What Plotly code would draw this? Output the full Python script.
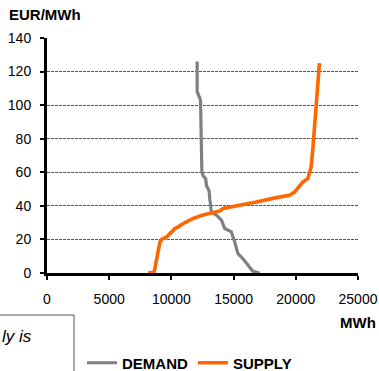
import plotly.graph_objects as go

# Aggregate demand curve (MWh, EUR/MWh)
demand_mwh = [12070, 12070, 12340, 12420, 12450, 12550, 12760, 12820, 13030, 13090,
              13220, 13620, 14020, 14290, 14820, 15090, 15350, 15750, 16150, 16550, 17090]
demand_price = [126, 108, 103, 80, 60, 58, 56, 52, 49, 44,
                36, 34.5, 31.5, 26.5, 24.5, 18.5, 11.5, 8.5, 4.5, 1, 0]

# Aggregate supply curve (MWh, EUR/MWh)
supply_mwh = [8140, 8600, 8680, 8810, 8940, 9080, 9220, 9610, 10020, 10280, 10550,
              10950, 11480, 11750, 12550, 13220, 13890, 14150, 15490, 16830, 18430,
              19500, 19900, 20300, 20560, 20960, 21230, 21360, 21500, 21630, 21760, 21900]
supply_price = [0, 0.5, 3, 8.5, 13, 18.5, 20, 21.5, 24.5, 26.5, 27.5,
                29.5, 31.5, 32.5, 34.5, 35.5, 37, 38.5, 40.3, 42.3, 44.9,
                46.3, 48.2, 52.2, 54.2, 56.2, 63, 73, 86, 99, 113, 125]

x_ticks = [0, 5000, 10000, 15000, 20000, 25000]
y_ticks = [0, 20, 40, 60, 80, 100, 120, 140]

W, H = 379, 371
L, R, T, B = 47, 21, 38, 98
PW, PH = W - L - R, H - T - B


def px_x(p):
    """Pixel column -> paper x."""
    return (p - L) / PW


def px_y(p):
    """Pixel row -> paper y."""
    return (H - B - p) / PH


fig = go.Figure()
fig.add_trace(go.Scatter(x=demand_mwh, y=demand_price, mode="lines", name="DEMAND",
                         line=dict(color="#808080", width=3.2)))
fig.add_trace(go.Scatter(x=supply_mwh, y=supply_price, mode="lines", name="SUPPLY",
                         line=dict(color="#FF6600", width=3.6)))

axis_font = dict(family="Arial, Liberation Sans", size=14, color="#000")

fig.update_layout(
    width=W, height=H,
    margin=dict(l=L, r=R, t=T, b=B, pad=0, autoexpand=False),
    paper_bgcolor="white", plot_bgcolor="white",
    font=dict(family="Arial, Liberation Sans", color="#000"),
    showlegend=True,
    legend=dict(orientation="h", xref="container", yref="container",
                x=82 / W, y=8 / H, xanchor="left", yanchor="middle",
                font=dict(family="Arial, Liberation Sans", size=15, color="#000", weight="bold"),
                bgcolor="rgba(0,0,0,0)", borderwidth=0),
    xaxis=dict(range=[0, 25000], tickvals=x_ticks, ticktext=[str(v) for v in x_ticks],
               showgrid=False, zeroline=False, showline=True, linecolor="#000", linewidth=3,
               ticks="outside", ticklen=4, tickwidth=2, tickcolor="#000", automargin=False,
               tickfont=axis_font, ticklabelstandoff=7),
    yaxis=dict(range=[0, 140], tickvals=y_ticks, ticktext=[str(v) for v in y_ticks],
               showgrid=True, gridcolor="#555", gridwidth=1, griddash="3px,1px",
               zeroline=False, showline=True, linecolor="#000", linewidth=3,
               ticks="outside", ticklen=4, tickwidth=2, tickcolor="#000", automargin=False,
               tickfont=axis_font, ticklabelstandoff=6),
)

fig.add_annotation(text="<b>EUR/MWh</b>", xref="paper", yref="paper",
                   x=px_x(7), y=px_y(15), xanchor="left", yanchor="middle",
                   showarrow=False, font=dict(family="Arial, Liberation Sans", size=15, color="#000"))
fig.add_annotation(text="<b>MWh</b>", xref="paper", yref="paper",
                   x=px_x(378), y=px_y(322), xanchor="right", yanchor="middle",
                   showarrow=False, font=dict(family="Arial, Liberation Sans", size=15, color="#000"))

# Note box at the lower left
fig.add_shape(type="rect", xref="paper", yref="paper",
              x0=px_x(-10), x1=px_x(74), y0=px_y(315), y1=px_y(390),
              line=dict(color="#555", width=1), fillcolor="rgba(0,0,0,0)")
fig.add_annotation(text="<i>ly is</i>", xref="paper", yref="paper",
                   x=px_x(0), y=px_y(336), xanchor="left", yanchor="middle",
                   showarrow=False, font=dict(family="Arial, Liberation Sans", size=17, color="#000"))

fig.write_html("out.html")
